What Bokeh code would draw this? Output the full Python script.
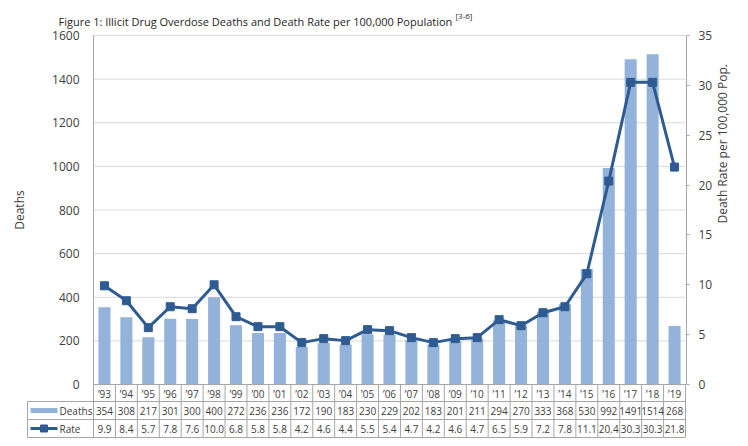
import math
from bokeh.plotting import figure
from bokeh.models import Range1d, LinearAxis, FixedTicker
from bokeh.embed import file_html
from bokeh.resources import INLINE
from bokeh.core.properties import value

# ---------------- data ----------------
YEARS = ["\u201993", "\u201994", "\u201995", "\u201996", "\u201997", "\u201998", "\u201999",
         "\u201900", "\u201901", "\u201902", "\u201903", "\u201904", "\u201905", "\u201906",
         "\u201907", "\u201908", "\u201909", "\u201910", "\u201911", "\u201912", "\u201913",
         "\u201914", "\u201915", "\u201916", "\u201917", "\u201918", "\u201919"]
DEATHS = [354, 308, 217, 301, 300, 400, 272, 236, 236, 172, 190, 183, 230,
          229, 202, 183, 201, 211, 294, 270, 333, 368, 530, 992, 1491, 1514, 268]
RATE = [9.9, 8.4, 5.7, 7.8, 7.6, 10.0, 6.8, 5.8, 5.8, 4.2, 4.6, 4.4, 5.5,
        5.4, 4.7, 4.2, 4.6, 4.7, 6.5, 5.9, 7.2, 7.8, 11.1, 20.4, 30.3, 30.3, 21.8]
DEATH_TICKS = [0, 200, 400, 600, 800, 1000, 1200, 1400, 1600]
RATE_TICKS = [0, 5, 10, 15, 20, 25, 30, 35]
SERIES = ["Deaths", "Rate"]
TITLE = "Figure 1: Illicit Drug Overdose Deaths and Death Rate per 100,000  Population"
TITLE_NOTE = "[3-6]"
LEFT_LABEL = "Deaths"
RIGHT_LABEL = "Death Rate per 100,000 Pop."

# ---------------- style ----------------
BAR_COLOR = "#93B3DB"
LINE_COLOR = "#2F5B93"
GRID_COLOR = "#D9D9D9"
AXIS_COLOR = "#A6A6A6"
TABLE_COLOR = "#A6A6A6"
TEXT_COLOR = "#404040"
TITLE_COLOR = "#262626"
FONT = "Open Sans"

W, H = 748, 446
N = len(YEARS)
PLOT_L, PLOT_R = 93, 685        # page px of plot area
PLOT_T, PLOT_B = 35, 384
CAT_W = (PLOT_R - PLOT_L) / N
UPP = DEATH_TICKS[-1] / (PLOT_B - PLOT_T)   # deaths units per px
RPP = RATE_TICKS[-1] / (PLOT_B - PLOT_T)    # rate units per px
RIGHT_BORDER = W - PLOT_R - 1


def xd(px):
    return (px - PLOT_L) / CAT_W


def yd(py):
    return (PLOT_B - py) * UPP


p = figure(width=W, height=H,
           x_range=Range1d(xd(0), xd(W - RIGHT_BORDER)),
           y_range=Range1d(yd(H), yd(0)),
           output_backend="svg", toolbar_location=None,
           x_axis_location=None, y_axis_location=None,
           min_border_left=0, min_border_right=RIGHT_BORDER,
           min_border_top=0, min_border_bottom=0)
p.outline_line_color = None
p.background_fill_color = "white"
p.grid.visible = False
p.extra_y_ranges = {"rate": Range1d(yd(H) / UPP * RPP, yd(0) / UPP * RPP)}

# left axis (fixed at the plot-area edge)
la = LinearAxis(ticker=FixedTicker(ticks=DEATH_TICKS), fixed_location=0,
                bounds=(DEATH_TICKS[0], DEATH_TICKS[-1]))
la.axis_line_color = AXIS_COLOR
la.major_tick_line_color = None
la.minor_tick_line_color = None
la.major_tick_out = 0
la.major_tick_in = 0
la.major_label_standoff = 14
la.major_label_text_font = FONT
la.major_label_text_font_size = "12px"
la.major_label_text_color = TEXT_COLOR
la.axis_label = LEFT_LABEL
la.axis_label_standoff = 21
la.axis_label_text_font = FONT
la.axis_label_text_font_size = "12px"
la.axis_label_text_font_style = "normal"
la.axis_label_text_color = TEXT_COLOR
p.add_layout(la, "left")

# right axis
ra = LinearAxis(y_range_name="rate", ticker=FixedTicker(ticks=RATE_TICKS),
                bounds=(RATE_TICKS[0], RATE_TICKS[-1]))
ra.axis_line_color = AXIS_COLOR
ra.major_tick_line_color = AXIS_COLOR
ra.minor_tick_line_color = None
ra.major_tick_out = 3
ra.major_tick_in = 0
ra.major_label_standoff = 9
ra.major_label_text_font = FONT
ra.major_label_text_font_size = "12px"
ra.major_label_text_color = TEXT_COLOR
ra.axis_label = RIGHT_LABEL
ra.axis_label_standoff = 7
ra.axis_label_text_font = FONT
ra.axis_label_text_font_size = "12px"
ra.axis_label_text_font_style = "normal"
ra.axis_label_text_color = TEXT_COLOR
try:
    ra.axis_label_orientation = math.pi / 2
except Exception:
    pass
p.add_layout(ra, "right")

# horizontal gridlines at the death ticks
p.segment(x0=[0] * len(DEATH_TICKS), x1=[N] * len(DEATH_TICKS),
          y0=DEATH_TICKS, y1=DEATH_TICKS, line_color=GRID_COLOR, line_width=1)

# bars + rate line
cx = [i + 0.5 for i in range(N)]
p.vbar(x=cx, top=DEATHS, bottom=0, width=0.55, fill_color=BAR_COLOR, line_color=None)
p.line(x=cx, y=RATE, y_range_name="rate", line_color=LINE_COLOR, line_width=3)
p.scatter(x=cx, y=RATE, y_range_name="rate", marker="square", size=8,
          fill_color=LINE_COLOR, line_color=LINE_COLOR)

# title
p.text(x=[xd(58)], y=[yd(21)], text=[TITLE], text_font=value(FONT),
       text_font_size="11px", text_color=TITLE_COLOR, text_align="left",
       text_baseline="alphabetic")
p.text(x=[xd(455)], y=[yd(15)], text=[TITLE_NOTE], text_font=value(FONT),
       text_font_size="8px", text_color=TITLE_COLOR, text_align="left",
       text_baseline="alphabetic")

# ---------------- data table ----------------
ROW_Y = [384, 401, 419, 437]          # page px of row boundaries
LEG_L = xd(27)
x0, y0, x1, y1 = [], [], [], []
for i in range(N + 1):
    x0.append(i); x1.append(i); y0.append(yd(ROW_Y[3])); y1.append(yd(ROW_Y[0]))
x0.append(LEG_L); x1.append(LEG_L); y0.append(yd(ROW_Y[3])); y1.append(yd(ROW_Y[1]))
x0.append(0); x1.append(N); y0.append(yd(ROW_Y[0])); y1.append(yd(ROW_Y[0]))
for r in ROW_Y[1:]:
    x0.append(LEG_L); x1.append(N); y0.append(yd(r)); y1.append(yd(r))
p.segment(x0=x0, y0=y0, x1=x1, y1=y1, line_color=TABLE_COLOR, line_width=1)

ycat = yd((ROW_Y[0] + ROW_Y[1]) / 2 + 0.5)
ydea = yd((ROW_Y[1] + ROW_Y[2]) / 2)
yrat = yd((ROW_Y[2] + ROW_Y[3]) / 2)
common = dict(text_font=value(FONT), text_font_size="10px", text_color=TEXT_COLOR,
              text_align="center", text_baseline="middle")
p.text(x=cx, y=[ycat] * N, text=YEARS, **common)
p.text(x=cx, y=[ydea] * N, text=[str(d) for d in DEATHS], **common)
p.text(x=cx, y=[yrat] * N, text=[f"{r:.1f}" for r in RATE], **common)

sw_l, sw_r = xd(30), xd(57)
p.quad(left=[sw_l], right=[sw_r], bottom=[ydea - 2.5 * UPP], top=[ydea + 2.5 * UPP],
       fill_color=BAR_COLOR, line_color=None)
p.line(x=[sw_l, sw_r], y=[yrat, yrat], line_color=LINE_COLOR, line_width=3)
p.scatter(x=[(sw_l + sw_r) / 2], y=[yrat], marker="square", size=7,
          fill_color=LINE_COLOR, line_color=LINE_COLOR)
p.text(x=[xd(59), xd(59)], y=[ydea, yrat], text=SERIES, text_font=value(FONT),
       text_font_size="10px", text_color=TEXT_COLOR, text_align="left",
       text_baseline="middle")

open("out.html", "w").write(file_html(p, INLINE))
